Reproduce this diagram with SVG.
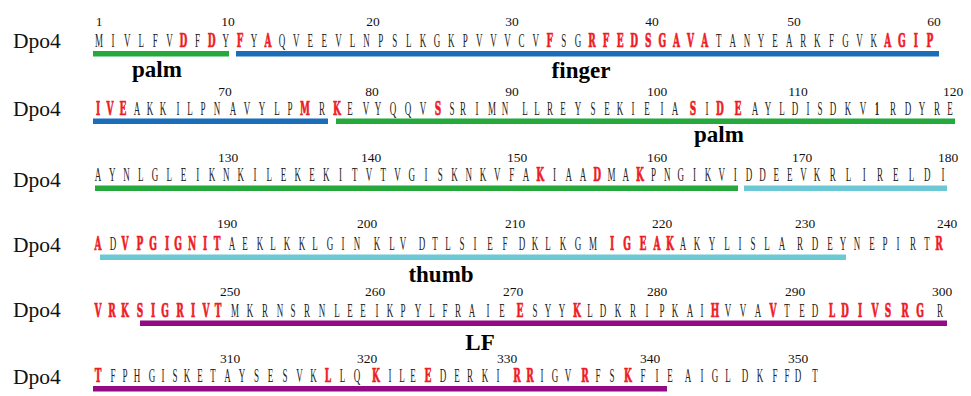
<svg xmlns="http://www.w3.org/2000/svg" width="971" height="396" viewBox="0 0 971 396">
<style>
.seq{font-family:"Liberation Serif",serif;font-size:18px;fill:#222;text-anchor:middle}
.r{font-family:"DejaVu Serif",serif;font-weight:bold;fill:#ee1c25;stroke:#ee1c25;stroke-width:0.7}
.one{font-weight:bold}
.num{font-family:"Liberation Serif",serif;font-size:13.5px;fill:#111;text-anchor:middle}
.lbl{font-family:"Liberation Serif",serif;font-size:21.5px;fill:#111}
.dom{font-family:"Liberation Serif",serif;font-size:23px;font-weight:bold;fill:#000;text-anchor:middle}
.green{fill:#25a83c}.blue{fill:#1a6db8}.cyan{fill:#6dc8d6}.purple{fill:#920b85}
</style>
<rect width="971" height="396" fill="#fff"/>
<g id="row1">
<text class="lbl" x="13" y="48">Dpo4</text>
<g class="num"><text x="99" y="26">1</text><text x="228" y="26">10</text><text x="373" y="26">20</text><text x="512" y="26">30</text><text x="652" y="26">40</text><text x="794" y="26">50</text><text x="934" y="26">60</text></g>
<text class="seq" transform="translate(0,47) scale(0.5,1)" y="0" x="198 226.2 254.3 282.5 310.7 338.9 367 395.2 423.4 451.5 479.7 507.9 536 564.2 592.4 620.6 648.7 676.9 705.1 733.2 761.4 789.6 817.7 845.9 874.1 902.3 930.4 958.6 986.8 1014.9 1043.1 1071.3 1099.4 1127.6 1155.8 1184 1212.1 1240.3 1268.5 1296.6 1324.8 1353 1381.1 1409.3 1437.5 1465.7 1493.8 1522 1550.2 1578.3 1606.5 1634.7 1662.8 1691 1719.2 1747.4 1775.5 1803.7 1831.9 1860">MIVLFV<tspan class="r">D</tspan>F<tspan class="r">D</tspan>Y<tspan class="r">F</tspan>Y<tspan class="r">A</tspan>QVEEVLNPSLKGKPVVVCV<tspan class="r">F</tspan>SG<tspan class="r">RFEDSGAVA</tspan>TANYEARKFGVK<tspan class="r">AGIP</tspan></text>
<rect class="green" x="93" y="51" width="136" height="5.5"/>
<rect class="blue" x="236" y="51" width="703" height="5.5"/>
<text class="dom" x="157" y="77">palm</text>
<text class="dom" x="581" y="78">finger</text>
</g>
<g id="row2">
<text class="lbl" x="13" y="116">Dpo4</text>
<g class="num"><text x="225" y="96">70</text><text x="372" y="96">80</text><text x="512" y="96">90</text><text x="657" y="96">100</text><text x="798" y="96">110</text><text x="953" y="96">120</text></g>
<text class="seq" transform="translate(0,115) scale(0.5,1)" y="0" x="196 220 246 274 300 326 356 380 406 434 466 494 524 554 580 610 644 674 700 732 756 786 816 846 876 904 926 954 984 1010 1050 1074 1100 1126 1156 1186 1214 1240 1266 1294 1324 1350 1386 1414 1440 1476 1510 1536 1564 1590 1616 1640 1666 1696 1726 1754 1786 1816 1844 1874 1900"><tspan class="r">IVE</tspan>AKKILPNAVYLP<tspan class="r">M</tspan>R<tspan class="r">K</tspan>EVYQQV<tspan class="r">S</tspan>SRIMNLLREYSEKIEIA<tspan class="r">S</tspan>I<tspan class="r">DE</tspan>AYLDISDKV<tspan class="one">1</tspan>RDYRE</text>
<rect class="blue" x="93" y="118.5" width="235" height="5.5"/>
<rect class="green" x="336" y="118.5" width="619" height="5.5"/>
<text class="dom" x="719" y="142">palm</text>
</g>
<g id="row3">
<text class="lbl" x="13" y="187">Dpo4</text>
<g class="num"><text x="228" y="162">130</text><text x="371" y="162">140</text><text x="517" y="162">150</text><text x="657" y="162">160</text><text x="802" y="162">170</text><text x="948" y="162">180</text></g>
<text class="seq" transform="translate(0,180.5) scale(0.5,1)" y="0" x="196 224.5 253.1 281.6 310.1 338.6 367.2 395.7 424.2 452.7 481.3 509.8 538.3 566.8 595.4 623.9 652.4 680.9 709.5 738 766.5 795 823.6 852.1 880.6 909.2 937.7 966.2 994.7 1023.3 1051.8 1080.3 1108.8 1137.4 1165.9 1194.4 1222.9 1251.5 1280 1307.2 1334.5 1361.7 1388.9 1416.2 1443.4 1470.6 1497.8 1525.1 1552.3 1579.5 1606.8 1634 1665.5 1697 1728.5 1760 1791.5 1823 1854.5 1886">AYNLGLEIKNKILEKEKITVTVGISKNKVFA<tspan class="r">K</tspan>IAA<tspan class="r">D</tspan>MA<tspan class="r">K</tspan>PNGIKVIDDEEVKRLIRELDI</text>
<rect class="green" x="95" y="185.5" width="643" height="5.5"/>
<rect class="cyan" x="744" y="185.5" width="203" height="5.5"/>
</g>
<g id="row4">
<text class="lbl" x="13" y="252">Dpo4</text>
<g class="num"><text x="227" y="228">190</text><text x="367" y="228">200</text><text x="515" y="228">210</text><text x="662" y="228">220</text><text x="805" y="228">230</text><text x="947" y="228">240</text></g>
<text class="seq" transform="translate(0,250) scale(0.5,1)" y="0" x="196 226 250 280 306 334 356 384 410 434 464 490 520 546 574 604 630 660 686 714 754 784 806 844 870 896 924 950 980 1010 1044 1070 1096 1126 1156 1186 1224 1254 1286 1314 1340 1366 1394 1424 1454 1480 1506 1534 1564 1600 1630 1660 1686 1714 1744 1770 1796 1826 1854 1878"><tspan class="r">A</tspan>D<tspan class="r">VPGIGNIT</tspan>AEKLKKLGINKLVDTLSIEFDKLKGM<tspan class="r">IGEAK</tspan>AKYLISLARDEYNEPIRT<tspan class="r">R</tspan></text>
<rect class="cyan" x="100" y="254.5" width="746" height="5.5"/>
<text class="dom" x="441" y="282">thumb</text>
</g>
<g id="row5">
<text class="lbl" x="13" y="317">Dpo4</text>
<g class="num"><text x="230" y="295.5">250</text><text x="375" y="295.5">260</text><text x="513" y="295.5">270</text><text x="657" y="295.5">280</text><text x="795" y="295.5">290</text><text x="942" y="295.5">300</text></g>
<text class="seq" transform="translate(0,316.5) scale(0.5,1)" y="0" x="196 224 250 280 306 330 360 386 412 436 470 500 530 560 586 614 644 674 700 726 754 780 806 836 864 890 916 944 976 1004 1040 1070 1096 1124 1154 1180 1206 1236 1266 1294 1324 1350 1380 1404 1430 1456 1486 1516 1546 1574 1604 1630 1664 1690 1720 1750 1776 1810 1840 1880"><tspan class="r">VRKSIGRIVT</tspan>MKRNSRNLEEIKPYLFRAIE<tspan class="r">E</tspan>SYY<tspan class="r">K</tspan>LDKRIPKAI<tspan class="r">H</tspan>VVA<tspan class="r">V</tspan>TED<tspan class="r">LDIVSRG</tspan>R</text>
<rect class="purple" x="140" y="320.5" width="807" height="5.5"/>
<text class="dom" x="480" y="350">LF</text>
</g>
<g id="row6">
<text class="lbl" x="13" y="384">Dpo4</text>
<g class="num"><text x="230" y="363">310</text><text x="367" y="363">320</text><text x="507" y="363">330</text><text x="650" y="363">340</text><text x="798" y="363">350</text></g>
<text class="seq" transform="translate(0,382) scale(0.5,1)" y="0" x="196 226 250 274 304 326 350 374 400 426 455 484 513 541 570 599 627 656 685 714 752 780 804 826 856 886 914 940 970 996 1034 1060 1084 1110 1136 1170 1196 1224 1256 1286 1314 1340 1376 1404 1430 1456 1490 1520 1550 1574 1596 1630"><tspan class="r">T</tspan>FPHGISKETAYSESVK<tspan class="r">L</tspan>LQ<tspan class="r">K</tspan>ILE<tspan class="r">E</tspan>DERKI<tspan class="r">RR</tspan>IGV<tspan class="r">R</tspan>FS<tspan class="r">K</tspan>FIEAIGLDKFFDT</text>
<rect class="purple" x="93" y="386" width="574" height="5.5"/>
</g>
</svg>
